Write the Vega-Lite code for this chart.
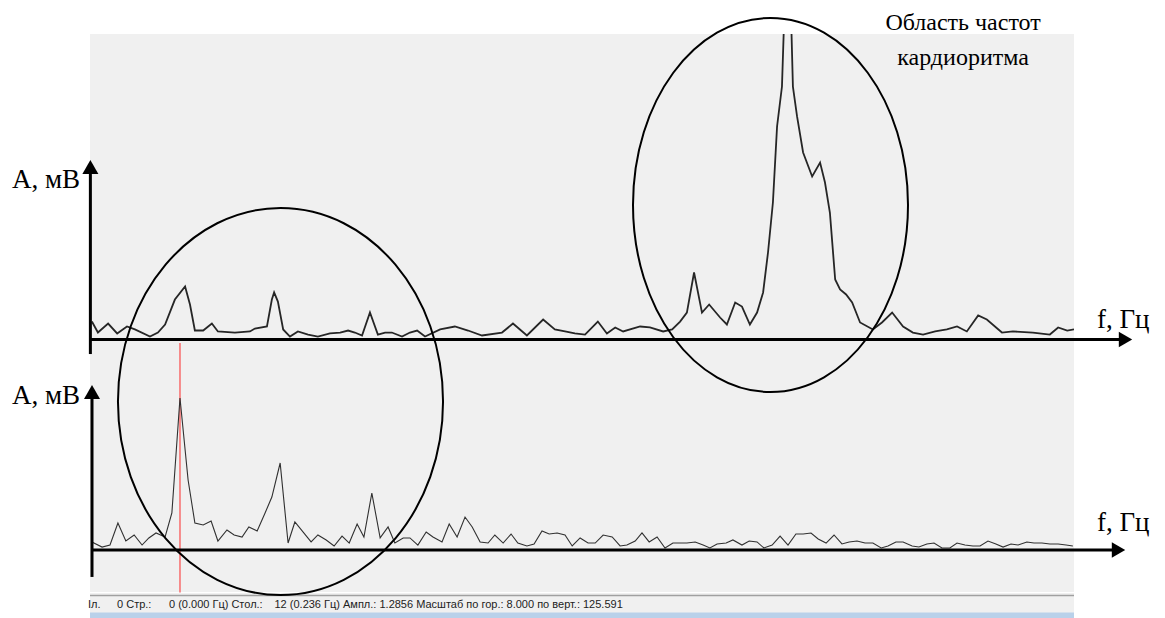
{
  "$schema": "https://vega.github.io/schema/vega-lite/v6.json",
  "width": 984,
  "height": 584,
  "autosize": {"type": "none"},
  "padding": {"left": 90, "top": 34, "right": 91, "bottom": 0},
  "background": "white",
  "config": {"view": {"fill": "#f0f0f0", "stroke": null}},
  "datasets": {
    "top": [
      {"f":0.005,"a":0.152},{"f":0.021,"a":0.059},{"f":0.048,"a":0.135},{"f":0.072,"a":0.051},{"f":0.098,"a":0.110},{"f":0.119,"a":0.085},{"f":0.159,"a":0.025},{"f":0.180,"a":0.059},{"f":0.199,"a":0.127},{"f":0.225,"a":0.338},{"f":0.252,"a":0.448},{"f":0.265,"a":0.296},{"f":0.278,"a":0.076},{"f":0.300,"a":0.076},{"f":0.323,"a":0.135},{"f":0.339,"a":0.068},{"f":0.384,"a":0.059},{"f":0.424,"a":0.068},{"f":0.437,"a":0.093},{"f":0.469,"a":0.110},{"f":0.482,"a":0.338},{"f":0.488,"a":0.398},{"f":0.498,"a":0.321},{"f":0.512,"a":0.085},{"f":0.530,"a":0.025},{"f":0.551,"a":0.068},{"f":0.578,"a":0.042},{"f":0.604,"a":0.025},{"f":0.636,"a":0.051},{"f":0.663,"a":0.059},{"f":0.684,"a":0.076},{"f":0.702,"a":0.059},{"f":0.721,"a":0.034},{"f":0.742,"a":0.228},{"f":0.763,"a":0.042},{"f":0.782,"a":0.059},{"f":0.800,"a":0.059},{"f":0.827,"a":0.025},{"f":0.848,"a":0.059},{"f":0.867,"a":0.076},{"f":0.888,"a":0.025},{"f":0.928,"a":0.085},{"f":0.967,"a":0.110},{"f":1.002,"a":0.076},{"f":1.039,"a":0.034},{"f":1.092,"a":0.059},{"f":1.121,"a":0.135},{"f":1.158,"a":0.034},{"f":1.201,"a":0.169},{"f":1.232,"a":0.085},{"f":1.259,"a":0.068},{"f":1.285,"a":0.051},{"f":1.312,"a":0.042},{"f":1.346,"a":0.152},{"f":1.370,"a":0.051},{"f":1.392,"a":0.102},{"f":1.413,"a":0.068},{"f":1.458,"a":0.110},{"f":1.484,"a":0.102},{"f":1.519,"a":0.068},{"f":1.543,"a":0.085},{"f":1.564,"a":0.152},{"f":1.582,"a":0.228},{"f":1.601,"a":0.567},{"f":1.622,"a":0.228},{"f":1.641,"a":0.296},{"f":1.670,"a":0.186},{"f":1.688,"a":0.127},{"f":1.710,"a":0.313},{"f":1.728,"a":0.279},{"f":1.749,"a":0.127},{"f":1.768,"a":0.228},{"f":1.784,"a":0.398},{"f":1.797,"a":0.736},{"f":1.810,"a":1.159},{"f":1.821,"a":1.802},{"f":1.834,"a":2.140},{"f":1.850,"a":3.722},{"f":1.863,"a":2.140},{"f":1.874,"a":1.887},{"f":1.890,"a":1.582},{"f":1.914,"a":1.379},{"f":1.935,"a":1.497},{"f":1.948,"a":1.328},{"f":1.961,"a":1.074},{"f":1.975,"a":0.508},{"f":1.988,"a":0.423},{"f":2.004,"a":0.381},{"f":2.020,"a":0.313},{"f":2.041,"a":0.144},{"f":2.075,"a":0.085},{"f":2.099,"a":0.144},{"f":2.126,"a":0.228},{"f":2.155,"a":0.110},{"f":2.181,"a":0.059},{"f":2.208,"a":0.042},{"f":2.240,"a":0.068},{"f":2.271,"a":0.085},{"f":2.298,"a":0.110},{"f":2.324,"a":0.068},{"f":2.354,"a":0.203},{"f":2.377,"a":0.169},{"f":2.417,"a":0.059},{"f":2.446,"a":0.068},{"f":2.499,"a":0.059},{"f":2.544,"a":0.042},{"f":2.566,"a":0.102},{"f":2.590,"a":0.076},{"f":2.608,"a":0.085}
    ],
    "bottom": [
      {"f":0.005,"a":0.068},{"f":0.032,"a":0.025},{"f":0.053,"a":0.042},{"f":0.074,"a":0.228},{"f":0.095,"a":0.076},{"f":0.117,"a":0.127},{"f":0.138,"a":0.042},{"f":0.156,"a":0.102},{"f":0.175,"a":0.144},{"f":0.199,"a":0.110},{"f":0.217,"a":0.313},{"f":0.2385,"a":1.286},{"f":0.260,"a":0.592},{"f":0.278,"a":0.228},{"f":0.300,"a":0.212},{"f":0.321,"a":0.245},{"f":0.339,"a":0.076},{"f":0.363,"a":0.169},{"f":0.382,"a":0.127},{"f":0.403,"a":0.110},{"f":0.421,"a":0.195},{"f":0.443,"a":0.161},{"f":0.464,"a":0.313},{"f":0.482,"a":0.448},{"f":0.504,"a":0.736},{"f":0.525,"a":0.059},{"f":0.543,"a":0.237},{"f":0.565,"a":0.152},{"f":0.586,"a":0.068},{"f":0.604,"a":0.127},{"f":0.626,"a":0.085},{"f":0.647,"a":0.034},{"f":0.668,"a":0.118},{"f":0.687,"a":0.059},{"f":0.708,"a":0.220},{"f":0.726,"a":0.110},{"f":0.747,"a":0.482},{"f":0.769,"a":0.102},{"f":0.790,"a":0.195},{"f":0.808,"a":0.059},{"f":0.830,"a":0.102},{"f":0.848,"a":0.102},{"f":0.869,"a":0.042},{"f":0.891,"a":0.152},{"f":0.909,"a":0.110},{"f":0.933,"a":0.068},{"f":0.952,"a":0.220},{"f":0.973,"a":0.110},{"f":0.994,"a":0.279},{"f":1.013,"a":0.195},{"f":1.034,"a":0.068},{"f":1.055,"a":0.059},{"f":1.073,"a":0.127},{"f":1.095,"a":0.059},{"f":1.116,"a":0.135},{"f":1.134,"a":0.059},{"f":1.158,"a":0.034},{"f":1.177,"a":0.051},{"f":1.198,"a":0.161},{"f":1.217,"a":0.135},{"f":1.238,"a":0.144},{"f":1.259,"a":0.127},{"f":1.278,"a":0.034},{"f":1.299,"a":0.102},{"f":1.320,"a":0.059},{"f":1.339,"a":0.059},{"f":1.360,"a":0.127},{"f":1.384,"a":0.110},{"f":1.405,"a":0.034},{"f":1.423,"a":0.042},{"f":1.445,"a":0.076},{"f":1.463,"a":0.144},{"f":1.482,"a":0.068},{"f":1.503,"a":0.110},{"f":1.524,"a":0.017},{"f":1.545,"a":0.059},{"f":1.564,"a":0.059},{"f":1.582,"a":0.059},{"f":1.604,"a":0.068},{"f":1.625,"a":0.042},{"f":1.643,"a":0.017},{"f":1.662,"a":0.051},{"f":1.686,"a":0.059},{"f":1.704,"a":0.085},{"f":1.728,"a":0.042},{"f":1.747,"a":0.076},{"f":1.768,"a":0.068},{"f":1.786,"a":0.017},{"f":1.808,"a":0.042},{"f":1.829,"a":0.118},{"f":1.850,"a":0.042},{"f":1.871,"a":0.135},{"f":1.890,"a":0.135},{"f":1.911,"a":0.144},{"f":1.930,"a":0.093},{"f":1.951,"a":0.059},{"f":1.972,"a":0.127},{"f":1.993,"a":0.051},{"f":2.012,"a":0.068},{"f":2.033,"a":0.076},{"f":2.054,"a":0.059},{"f":2.075,"a":0.059},{"f":2.097,"a":0.017},{"f":2.115,"a":0.034},{"f":2.136,"a":0.068},{"f":2.155,"a":0.068},{"f":2.179,"a":0.034},{"f":2.197,"a":0.025},{"f":2.218,"a":0.051},{"f":2.237,"a":0.059},{"f":2.258,"a":0.017},{"f":2.279,"a":0.017},{"f":2.298,"a":0.059},{"f":2.319,"a":0.042},{"f":2.340,"a":0.034},{"f":2.359,"a":0.034},{"f":2.380,"a":0.076},{"f":2.401,"a":0.051},{"f":2.420,"a":0.025},{"f":2.441,"a":0.051},{"f":2.460,"a":0.042},{"f":2.483,"a":0.068},{"f":2.502,"a":0.059},{"f":2.523,"a":0.059},{"f":2.544,"a":0.051},{"f":2.566,"a":0.051},{"f":2.587,"a":0.042},{"f":2.605,"a":0.034}
    ],
    "axesTop": [
      {"f":0.001,"f2":2.73,"a":0,"a2":0},
      {"f":0.001,"f2":0.001,"a":-0.123,"a2":1.40}
    ],
    "arrowUpTop": [{"f":0.001,"a":1.459}],
    "arrowRightTop": [{"f":2.7445,"a":0}],
    "ellipseTop": [{"f":1.8036,"a":1.138}],
    "yLabelTop": [{"label":"А, мВ","f":-0.0265,"a":1.282}],
    "xLabelTop": [{"label":"f, Гц","f":2.669,"a":0.097}],
    "note": [{"label":"Область частот","f":2.314,"a":2.618},{"label":"кардиоритма","f":2.314,"a":2.322}],
    "statusBand": [{"f":0,"f2":2.608,"a":-0.529,"a2":-0.62}],
    "sepLight": [{"f":0,"f2":2.608,"a":-0.360,"a2":-0.360}],
    "sepDark": [{"f":0,"f2":2.608,"a":-0.385,"a2":-0.385}],
    "cursor": [{"f":0.2385,"f2":0.2385,"a":1.751,"a2":-0.36}],
    "axesBottom": [
      {"f":0.0053,"f2":2.711,"a":0,"a2":0},
      {"f":0.0053,"f2":0.0053,"a":-0.228,"a2":1.28}
    ],
    "arrowUpBottom": [{"f":0.0053,"a":1.337}],
    "arrowRightBottom": [{"f":2.726,"a":0}],
    "ellipseBottom": [{"f":0.5049,"a":1.256}],
    "yLabelBottom": [{"label":"А, мВ","f":-0.0265,"a":1.235}],
    "xLabelBottom": [{"label":"f, Гц","f":2.669,"a":0.161}],
    "status": [
      {"label":"Іл.","f":-0.0053,"a":-0.465},
      {"label":"0 Стр.:","f":0.0716,"a":-0.465},
      {"label":"0 (0.000 Гц) Стол.:","f":0.2094,"a":-0.465},
      {"label":"12 (0.236 Гц) Ампл.: 1.2856 Масштаб по гор.: 8.000 по верт.: 125.591","f":0.489,"a":-0.465}
    ]
  },
  "layer": [
    {
      "layer": [
        {
          "data": {"name": "top"},
          "mark": {"type": "line", "color": "#262626", "strokeWidth": 1.8, "clip": true},
          "encoding": {
            "x": {"field": "f", "type": "quantitative", "scale": {"domain": [0, 2.608], "nice": false, "zero": false}, "axis": null},
            "y": {"field": "a", "type": "quantitative", "scale": {"domain": [0, 1], "range": [305.5, 187.3], "nice": false, "zero": false}, "axis": null}
          }
        },
        {
          "data": {"name": "axesTop"},
          "mark": {"type": "rule", "color": "black", "strokeWidth": 3},
          "encoding": {
            "x": {"field": "f", "type": "quantitative", "scale": {"domain": [0, 2.608], "nice": false, "zero": false}, "axis": null},
            "x2": {"field": "f2"},
            "y": {"field": "a", "type": "quantitative", "scale": {"domain": [0, 1], "range": [305.5, 187.3], "nice": false, "zero": false}, "axis": null},
            "y2": {"field": "a2"}
          }
        },
        {
          "data": {"name": "arrowUpTop"},
          "mark": {"type": "point", "shape": "triangle-up", "filled": true, "color": "black", "opacity": 1, "size": 256, "strokeWidth": 0},
          "encoding": {
            "x": {"field": "f", "type": "quantitative", "scale": {"domain": [0, 2.608], "nice": false, "zero": false}, "axis": null},
            "y": {"field": "a", "type": "quantitative", "scale": {"domain": [0, 1], "range": [305.5, 187.3], "nice": false, "zero": false}, "axis": null}
          }
        },
        {
          "data": {"name": "arrowRightTop"},
          "mark": {"type": "point", "shape": "triangle-right", "filled": true, "color": "black", "opacity": 1, "size": 240, "strokeWidth": 0},
          "encoding": {
            "x": {"field": "f", "type": "quantitative", "scale": {"domain": [0, 2.608], "nice": false, "zero": false}, "axis": null},
            "y": {"field": "a", "type": "quantitative", "scale": {"domain": [0, 1], "range": [305.5, 187.3], "nice": false, "zero": false}, "axis": null}
          }
        },
        {
          "data": {"name": "ellipseTop"},
          "mark": {"type": "point", "shape": "M0.7353,0C0.7353,0.5523,0.4061,1,0,1C-0.4061,1,-0.7353,0.5523,-0.7353,0C-0.7353,-0.5523,-0.4061,-1,0,-1C0.4061,-1,0.7353,-0.5523,0.7353,0Z", "filled": false, "stroke": "black", "strokeWidth": 2, "opacity": 1, "size": 139876},
          "encoding": {
            "x": {"field": "f", "type": "quantitative", "scale": {"domain": [0, 2.608], "nice": false, "zero": false}, "axis": null},
            "y": {"field": "a", "type": "quantitative", "scale": {"domain": [0, 1], "range": [305.5, 187.3], "nice": false, "zero": false}, "axis": null}
          }
        },
        {
          "data": {"name": "yLabelTop"},
          "mark": {"type": "text", "font": "Liberation Serif", "fontSize": 27, "align": "right", "baseline": "alphabetic", "color": "black"},
          "encoding": {
            "x": {"field": "f", "type": "quantitative", "scale": {"domain": [0, 2.608], "nice": false, "zero": false}, "axis": null},
            "y": {"field": "a", "type": "quantitative", "scale": {"domain": [0, 1], "range": [305.5, 187.3], "nice": false, "zero": false}, "axis": null},
            "text": {"field": "label"}
          }
        },
        {
          "data": {"name": "xLabelTop"},
          "mark": {"type": "text", "font": "Liberation Serif", "fontSize": 27, "align": "left", "baseline": "alphabetic", "color": "black"},
          "encoding": {
            "x": {"field": "f", "type": "quantitative", "scale": {"domain": [0, 2.608], "nice": false, "zero": false}, "axis": null},
            "y": {"field": "a", "type": "quantitative", "scale": {"domain": [0, 1], "range": [305.5, 187.3], "nice": false, "zero": false}, "axis": null},
            "text": {"field": "label"}
          }
        },
        {
          "data": {"name": "note"},
          "mark": {"type": "text", "font": "Liberation Serif", "fontSize": 24, "align": "center", "baseline": "alphabetic", "color": "black"},
          "encoding": {
            "x": {"field": "f", "type": "quantitative", "scale": {"domain": [0, 2.608], "nice": false, "zero": false}, "axis": null},
            "y": {"field": "a", "type": "quantitative", "scale": {"domain": [0, 1], "range": [305.5, 187.3], "nice": false, "zero": false}, "axis": null},
            "text": {"field": "label"}
          }
        }
      ]
    },
    {
      "layer": [
        {
          "data": {"name": "statusBand"},
          "mark": {"type": "rect", "color": "#b9d1ea"},
          "encoding": {
            "x": {"field": "f", "type": "quantitative", "scale": {"domain": [0, 2.608], "nice": false, "zero": false}, "axis": null},
            "x2": {"field": "f2"},
            "y": {"field": "a", "type": "quantitative", "scale": {"domain": [0, 1], "range": [516, 397.8], "nice": false, "zero": false}, "axis": null},
            "y2": {"field": "a2"}
          }
        },
        {
          "data": {"name": "sepLight"},
          "mark": {"type": "rule", "color": "#ffffff", "strokeWidth": 1},
          "encoding": {
            "x": {"field": "f", "type": "quantitative", "scale": {"domain": [0, 2.608], "nice": false, "zero": false}, "axis": null},
            "x2": {"field": "f2"},
            "y": {"field": "a", "type": "quantitative", "scale": {"domain": [0, 1], "range": [516, 397.8], "nice": false, "zero": false}, "axis": null}
          }
        },
        {
          "data": {"name": "sepDark"},
          "mark": {"type": "rule", "color": "#a0a0a0", "strokeWidth": 1.5},
          "encoding": {
            "x": {"field": "f", "type": "quantitative", "scale": {"domain": [0, 2.608], "nice": false, "zero": false}, "axis": null},
            "x2": {"field": "f2"},
            "y": {"field": "a", "type": "quantitative", "scale": {"domain": [0, 1], "range": [516, 397.8], "nice": false, "zero": false}, "axis": null}
          }
        },
        {
          "data": {"name": "cursor"},
          "mark": {"type": "rule", "color": "#f76b6b", "strokeWidth": 1.5},
          "encoding": {
            "x": {"field": "f", "type": "quantitative", "scale": {"domain": [0, 2.608], "nice": false, "zero": false}, "axis": null},
            "y": {"field": "a", "type": "quantitative", "scale": {"domain": [0, 1], "range": [516, 397.8], "nice": false, "zero": false}, "axis": null},
            "y2": {"field": "a2"}
          }
        },
        {
          "data": {"name": "bottom"},
          "mark": {"type": "line", "color": "#303030", "strokeWidth": 1.1},
          "encoding": {
            "x": {"field": "f", "type": "quantitative", "scale": {"domain": [0, 2.608], "nice": false, "zero": false}, "axis": null},
            "y": {"field": "a", "type": "quantitative", "scale": {"domain": [0, 1], "range": [516, 397.8], "nice": false, "zero": false}, "axis": null}
          }
        },
        {
          "data": {"name": "axesBottom"},
          "mark": {"type": "rule", "color": "black", "strokeWidth": 3},
          "encoding": {
            "x": {"field": "f", "type": "quantitative", "scale": {"domain": [0, 2.608], "nice": false, "zero": false}, "axis": null},
            "x2": {"field": "f2"},
            "y": {"field": "a", "type": "quantitative", "scale": {"domain": [0, 1], "range": [516, 397.8], "nice": false, "zero": false}, "axis": null},
            "y2": {"field": "a2"}
          }
        },
        {
          "data": {"name": "arrowUpBottom"},
          "mark": {"type": "point", "shape": "triangle-up", "filled": true, "color": "black", "opacity": 1, "size": 256, "strokeWidth": 0},
          "encoding": {
            "x": {"field": "f", "type": "quantitative", "scale": {"domain": [0, 2.608], "nice": false, "zero": false}, "axis": null},
            "y": {"field": "a", "type": "quantitative", "scale": {"domain": [0, 1], "range": [516, 397.8], "nice": false, "zero": false}, "axis": null}
          }
        },
        {
          "data": {"name": "arrowRightBottom"},
          "mark": {"type": "point", "shape": "triangle-right", "filled": true, "color": "black", "opacity": 1, "size": 240, "strokeWidth": 0},
          "encoding": {
            "x": {"field": "f", "type": "quantitative", "scale": {"domain": [0, 2.608], "nice": false, "zero": false}, "axis": null},
            "y": {"field": "a", "type": "quantitative", "scale": {"domain": [0, 1], "range": [516, 397.8], "nice": false, "zero": false}, "axis": null}
          }
        },
        {
          "data": {"name": "ellipseBottom"},
          "mark": {"type": "point", "shape": "M0.84,0C0.84,0.5523,0.4639,1,0,1C-0.4639,1,-0.84,0.5523,-0.84,0C-0.84,-0.5523,-0.4639,-1,0,-1C0.4639,-1,0.84,-0.5523,0.84,0Z", "filled": false, "stroke": "black", "strokeWidth": 2, "opacity": 1, "size": 149769},
          "encoding": {
            "x": {"field": "f", "type": "quantitative", "scale": {"domain": [0, 2.608], "nice": false, "zero": false}, "axis": null},
            "y": {"field": "a", "type": "quantitative", "scale": {"domain": [0, 1], "range": [516, 397.8], "nice": false, "zero": false}, "axis": null}
          }
        },
        {
          "data": {"name": "yLabelBottom"},
          "mark": {"type": "text", "font": "Liberation Serif", "fontSize": 27, "align": "right", "baseline": "alphabetic", "color": "black"},
          "encoding": {
            "x": {"field": "f", "type": "quantitative", "scale": {"domain": [0, 2.608], "nice": false, "zero": false}, "axis": null},
            "y": {"field": "a", "type": "quantitative", "scale": {"domain": [0, 1], "range": [516, 397.8], "nice": false, "zero": false}, "axis": null},
            "text": {"field": "label"}
          }
        },
        {
          "data": {"name": "xLabelBottom"},
          "mark": {"type": "text", "font": "Liberation Serif", "fontSize": 27, "align": "left", "baseline": "alphabetic", "color": "black"},
          "encoding": {
            "x": {"field": "f", "type": "quantitative", "scale": {"domain": [0, 2.608], "nice": false, "zero": false}, "axis": null},
            "y": {"field": "a", "type": "quantitative", "scale": {"domain": [0, 1], "range": [516, 397.8], "nice": false, "zero": false}, "axis": null},
            "text": {"field": "label"}
          }
        },
        {
          "data": {"name": "status"},
          "mark": {"type": "text", "font": "Liberation Sans", "fontSize": 11, "align": "left", "baseline": "middle", "color": "#222222"},
          "encoding": {
            "x": {"field": "f", "type": "quantitative", "scale": {"domain": [0, 2.608], "nice": false, "zero": false}, "axis": null},
            "y": {"field": "a", "type": "quantitative", "scale": {"domain": [0, 1], "range": [516, 397.8], "nice": false, "zero": false}, "axis": null},
            "text": {"field": "label"}
          }
        }
      ]
    }
  ],
  "resolve": {"scale": {"y": "independent"}}
}
